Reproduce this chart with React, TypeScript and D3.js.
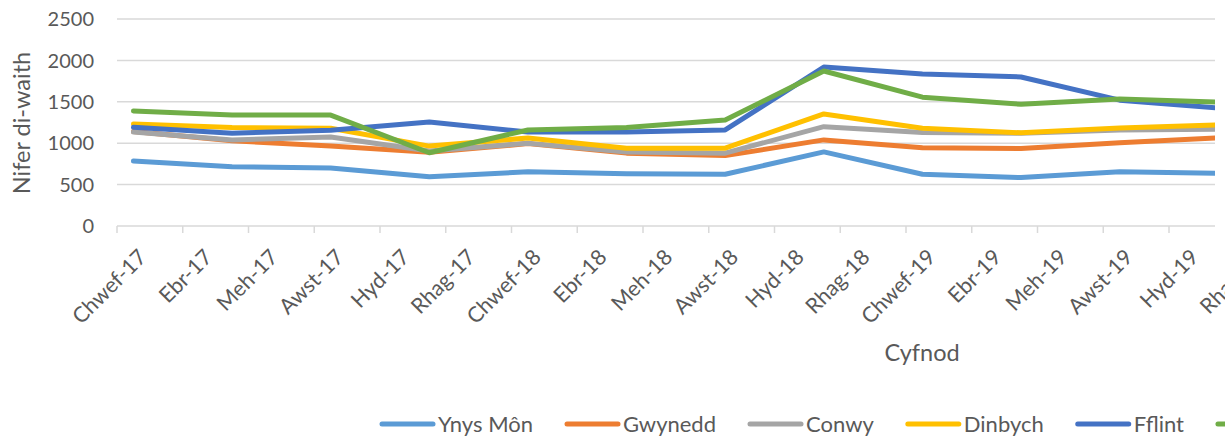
import React, { useEffect, useRef } from 'react';
import * as d3 from 'd3';

// month labels shown on the axis (every second month)
const tickLabels = [
  'Chwef-17', 'Ebr-17', 'Meh-17', 'Awst-17', 'Hyd-17', 'Rhag-17',
  'Chwef-18', 'Ebr-18', 'Meh-18', 'Awst-18', 'Hyd-18', 'Rhag-18',
  'Chwef-19', 'Ebr-19', 'Meh-19', 'Awst-19', 'Hyd-19', 'Rhag-19',
];

// quarterly periods of the data
const periods = [
  '2017-02', '2017-05', '2017-08', '2017-11',
  '2018-02', '2018-05', '2018-08', '2018-11',
  '2019-02', '2019-05', '2019-08', '2019-11',
];

const seriesNames = ['Ynys Môn', 'Gwynedd', 'Conwy', 'Dinbych', 'Fflint', 'Wrecsam'];
const seriesColors = ['#5B9BD5', '#ED7D31', '#A5A5A5', '#FFC000', '#4472C4', '#70AD47'];

const ynysMon = [785, 715, 700, 595, 655, 630, 625, 895, 625, 585, 655, 635];
const gwynedd = [1140, 1030, 965, 890, 995, 880, 850, 1040, 945, 935, 1005, 1065];
const conwy = [1135, 1040, 1075, 905, 1000, 895, 880, 1200, 1130, 1120, 1160, 1170];
const dinbych = [1232, 1190, 1180, 965, 1063, 940, 940, 1353, 1180, 1125, 1185, 1220];
const fflint = [1192, 1120, 1155, 1256, 1135, 1135, 1160, 1920, 1836, 1800, 1520, 1425];
const wrecsam = [1389, 1340, 1340, 885, 1160, 1190, 1280, 1872, 1556, 1470, 1533, 1496];

const seriesValues = [ynysMon, gwynedd, conwy, dinbych, fflint, wrecsam];
const yTicks = [0, 500, 1000, 1500, 2000, 2500];

const FONT = 'Lato, "Open Sans", sans-serif';
const TEXT = '#595959';
const GRID = '#D9D9D9';

// months since Feb 2017
const monthIndex = (p: string) => {
  const [y, m] = p.split('-').map(Number);
  return (y - 2017) * 12 + (m - 2);
};

const App: React.FC = () => {
  const ref = useRef<SVGSVGElement>(null);

  useEffect(() => {
    const svg = d3.select(ref.current);
    svg.selectAll('*').remove();

    const left = 117;
    const right = 1215;
    const top = 19;
    const bottom = 226;

    // x: month index, ticks every 2 months, points at month centre
    const x = d3.scaleLinear().domain([0, 32]).range([left, 1169]);
    const y = d3.scaleLinear().domain([0, 2500]).range([bottom, top]);

    // gridlines
    svg.append('g')
      .selectAll('line')
      .data(yTicks)
      .enter()
      .append('line')
      .attr('x1', left)
      .attr('x2', right)
      .attr('y1', d => y(d))
      .attr('y2', d => y(d))
      .attr('stroke', GRID)
      .attr('stroke-width', 1.5);

    // y tick labels
    svg.append('g')
      .selectAll('text')
      .data(yTicks)
      .enter()
      .append('text')
      .attr('x', 94)
      .attr('y', d => y(d))
      .attr('dy', '0.36em')
      .attr('text-anchor', 'end')
      .attr('font-family', FONT)
      .attr('font-size', 20)
      .attr('fill', TEXT)
      .text(d => d);

    // x tick marks
    const tickIdx = d3.range(0, 33, 2);
    svg.append('g')
      .selectAll('line')
      .data(tickIdx)
      .enter()
      .append('line')
      .attr('x1', d => x(d))
      .attr('x2', d => x(d))
      .attr('y1', bottom)
      .attr('y2', bottom + 7)
      .attr('stroke', GRID)
      .attr('stroke-width', 1.5);

    // x tick labels
    svg.append('g')
      .selectAll('text')
      .data(tickLabels)
      .enter()
      .append('text')
      .attr('transform', (_, i) => `translate(${x(i * 2 + 0.5) + 9},${253}) rotate(-45)`)
      .attr('dy', '0.36em')
      .attr('text-anchor', 'end')
      .attr('font-family', FONT)
      .attr('font-size', 21.5)
      .attr('fill', TEXT)
      .text(d => d);

    // axis titles
    svg.append('text')
      .attr('transform', `translate(22,${123}) rotate(-90)`)
      .attr('dy', '0.36em')
      .attr('text-anchor', 'middle')
      .attr('font-family', FONT)
      .attr('font-size', 23.5)
      .attr('fill', TEXT)
      .text('Nifer di-waith');

    svg.append('text')
      .attr('x', 922)
      .attr('y', 353)
      .attr('dy', '0.36em')
      .attr('text-anchor', 'middle')
      .attr('font-family', FONT)
      .attr('font-size', 23.5)
      .attr('fill', TEXT)
      .text('Cyfnod');

    // lines, clipped to the plot area
    svg.append('clipPath')
      .attr('id', 'plot-clip')
      .append('rect')
      .attr('x', left)
      .attr('y', 0)
      .attr('width', right - left)
      .attr('height', bottom + 10);

    const line = d3.line<number>()
      .x((_, i) => x(monthIndex(periods[i]) + 0.5))
      .y(d => y(d));

    const lines = svg.append('g').attr('clip-path', 'url(#plot-clip)');
    seriesValues.forEach((vals, s) => {
      lines.append('path')
        .datum(vals)
        .attr('fill', 'none')
        .attr('stroke', seriesColors[s])
        .attr('stroke-width', 5)
        .attr('stroke-linejoin', 'round')
        .attr('stroke-linecap', 'round')
        .attr('d', line);
    });

    // legend
    const legend = svg.append('g');
    let lx = 380;
    const ly = 424;
    seriesNames.forEach((name, s) => {
      legend.append('line')
        .attr('x1', lx + 2)
        .attr('x2', lx + 53)
        .attr('y1', ly)
        .attr('y2', ly)
        .attr('stroke', seriesColors[s])
        .attr('stroke-width', 5)
        .attr('stroke-linecap', 'round');
      const t = legend.append('text')
        .attr('x', lx + 58)
        .attr('y', ly)
        .attr('dy', '0.36em')
        .attr('font-family', FONT)
        .attr('font-size', 22)
        .attr('fill', TEXT)
        .text(name);
      const w = (t.node() as SVGTextElement).getComputedTextLength();
      lx = lx + 58 + w + 32;
    });
  }, []);

  return (
    <div style={{ position: 'absolute', left: 0, top: 0 }}>
      <svg ref={ref} width={1225} height={438} style={{ display: 'block', background: '#fff' }} />
    </div>
  );
};

export default App;
